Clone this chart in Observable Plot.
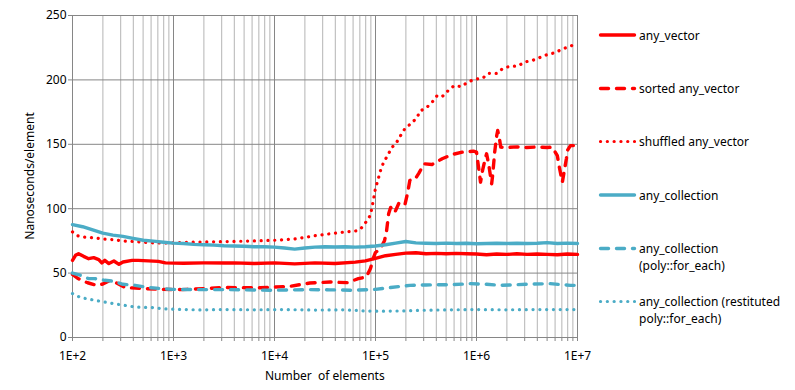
<!DOCTYPE html>
<html>
<head>
<meta charset="utf-8">
<script src="https://cdn.jsdelivr.net/npm/d3@7"></script>
<script src="https://cdn.jsdelivr.net/npm/@observablehq/plot@0.6"></script>
<style>
  html, body { margin: 0; padding: 0; background: #fff; }
  svg { display: block; }
</style>
</head>
<body>
<script>
// ---- Data (x given as log10 of the number of elements) ----
const seriesNames = [
  "any_vector",
  "sorted any_vector",
  "shuffled any_vector",
  "any_collection",
  "any_collection (poly::for_each)",
  "any_collection (restituted poly::for_each)"
];
const legendLines = [
  ["any_vector"],
  ["sorted any_vector"],
  ["shuffled any_vector"],
  ["any_collection"],
  ["any_collection", "(poly::for_each)"],
  ["any_collection (restituted", "poly::for_each)"]
];

const anyVectorLog = [2.0, 2.03, 2.06, 2.11, 2.16, 2.21, 2.26, 2.29, 2.32, 2.36, 2.41, 2.46, 2.5, 2.59, 2.65, 2.85, 2.92, 3.1, 3.3, 3.51, 3.6, 3.8, 4.0, 4.2, 4.4, 4.6, 4.8, 4.9, 5.0, 5.1, 5.2, 5.3, 5.4, 5.5, 5.6, 5.7, 5.8, 5.9, 6.0, 6.1, 6.2, 6.3, 6.4, 6.5, 6.6, 6.7, 6.8, 6.9, 7.0];
const anyVectorNs  = [59.9, 63.8, 65.1, 63, 61.2, 62, 60.5, 57.9, 59.9, 57.4, 59.4, 56.8, 58.6, 59.9, 59.9, 59.1, 57.9, 57.6, 57.9, 57.9, 57.9, 57.5, 57.9, 57.2, 57.9, 57.5, 58.5, 59.5, 61.5, 63.5, 64.5, 65.5, 65.8, 65, 65.3, 65, 65.3, 65, 64.8, 64.3, 64.8, 64.5, 65, 64.5, 64.8, 64.5, 64.3, 64.8, 64.5];

const sortedLog = [2.0, 2.05, 2.1, 2.15, 2.24, 2.3, 2.36, 2.42, 2.52, 2.72, 2.85, 3.08, 3.31, 3.51, 3.86, 4.16, 4.35, 4.55, 4.72, 4.83, 4.91, 4.95, 4.98, 5.0, 5.05, 5.09, 5.11, 5.13, 5.15, 5.19, 5.23, 5.29, 5.32, 5.34, 5.39, 5.43, 5.48, 5.56, 5.66, 5.76, 5.86, 5.97, 6.0, 6.02, 6.04, 6.06, 6.09, 6.1, 6.12, 6.15, 6.16, 6.18, 6.2, 6.21, 6.23, 6.24, 6.3, 6.4, 6.5, 6.6, 6.7, 6.75, 6.8, 6.82, 6.85, 6.87, 6.89, 6.9, 6.93, 7.0];
const sortedNs  = [49, 46, 44, 42.5, 40.5, 41.5, 43.9, 43, 38.8, 38, 37.4, 37.2, 38, 38.8, 38.6, 39.8, 42.3, 43.1, 42.6, 45.7, 47, 53.5, 62, 66, 69, 75.4, 83, 96, 101, 97, 104, 102.6, 113, 122, 122.7, 127.6, 134.9, 134.3, 138.8, 142.1, 143.9, 144.7, 144, 132.3, 120.6, 129.7, 140, 142.6, 134.9, 119.4, 126, 143.9, 156.8, 160.7, 153, 147.8, 147.5, 148, 147.5, 148, 147.5, 147.8, 141.3, 132.3, 120.6, 129.7, 138.8, 145.2, 149, 149];

const shuffledLog = [2.0, 2.05, 2.1, 2.2, 2.3, 2.4, 2.5, 2.6, 2.7, 2.8, 2.9, 3.0, 3.2, 3.4, 3.6, 3.8, 4.0, 4.2, 4.4, 4.6, 4.7, 4.8, 4.85, 4.9, 4.95, 4.98, 5.0, 5.02, 5.05, 5.08, 5.12, 5.16, 5.21, 5.25, 5.29, 5.35, 5.41, 5.44, 5.51, 5.56, 5.61, 5.66, 5.72, 5.78, 5.85, 5.91, 5.98, 6.06, 6.12, 6.2, 6.26, 6.33, 6.41, 6.48, 6.55, 6.63, 6.7, 6.78, 6.85, 6.92, 6.98, 7.0];
const shuffledNs  = [82, 79, 78, 77.5, 76.5, 76, 75, 74.5, 74, 73.5, 73.3, 73.5, 74, 74.3, 74.6, 75, 75.5, 76.5, 79, 81, 82, 82.6, 84, 89, 95, 107, 116, 121, 129.7, 136, 141.3, 147.3, 151.6, 157, 162, 166, 170.5, 175.7, 178.8, 182.6, 187.8, 187, 191.7, 195.6, 194.8, 198.1, 200.5, 201.3, 205.1, 205, 208.8, 210.6, 210.8, 214, 215, 217.5, 219.6, 221.2, 224, 225.8, 227.9, 228.5];

const collectionLog = [2.0, 2.1, 2.2, 2.3, 2.4, 2.5, 2.6, 2.7, 2.8, 2.9, 3.0, 3.1, 3.2, 3.3, 3.4, 3.5, 3.6, 3.7, 3.8, 3.9, 4.0, 4.1, 4.2, 4.3, 4.4, 4.5, 4.6, 4.7, 4.8, 4.9, 5.0, 5.1, 5.2, 5.3, 5.4, 5.5, 5.6, 5.7, 5.8, 5.9, 6.0, 6.1, 6.2, 6.3, 6.4, 6.5, 6.6, 6.7, 6.8, 6.9, 7.0];
const collectionNs  = [87.6, 86, 83.5, 81, 79.5, 78.5, 77, 75.5, 74.8, 74, 73.3, 73, 72.3, 72, 71.7, 71.2, 71, 70.8, 70.5, 70.5, 70.2, 69.5, 68.6, 69.5, 70.2, 70.5, 70.3, 70.5, 70.2, 70.5, 71, 72, 73.3, 74.5, 73.5, 73.2, 73, 73.3, 73, 73.2, 72.8, 73, 73.2, 73, 73.2, 73, 73.2, 73.7, 73, 73.3, 73];

const polyLog = [2.0, 2.08, 2.16, 2.22, 2.32, 2.41, 2.5, 2.62, 2.75, 2.98, 3.25, 3.5, 3.7, 3.96, 4.2, 4.35, 4.55, 4.78, 5.0, 5.15, 5.34, 5.5, 5.74, 5.94, 6.1, 6.23, 6.4, 6.55, 6.73, 6.93, 7.0];
const polyNs  = [50, 48.3, 45.7, 45.7, 44.4, 43.6, 41.3, 40.5, 38.8, 37.4, 37.2, 37.2, 37, 36.7, 37, 37.2, 37, 36.7, 37.4, 38.8, 40.5, 40.8, 41, 41.8, 41.3, 40.5, 41, 41.5, 41.8, 40.5, 40.5];

const restitutedLog = [2.0, 2.08, 2.22, 2.31, 2.46, 2.62, 2.77, 2.92, 3.25, 3.48, 3.8, 4.1, 4.4, 4.7, 4.9, 5.0, 5.25, 5.5, 5.94, 6.3, 6.6, 7.0];
const restitutedNs  = [34.1, 31, 28.9, 27.6, 25.6, 23.7, 23.3, 22.2, 21.4, 21.7, 21.5, 21.7, 21.3, 21.5, 20.6, 20.4, 20.6, 21.2, 21.7, 21.5, 21.7, 21.7];

const xTickLabels = ["1E+2", "1E+3", "1E+4", "1E+5", "1E+6", "1E+7"];
const xTickExp = [2, 3, 4, 5, 6, 7];
const yTicks = [0, 50, 100, 150, 200, 250];

// ---- Styles ----
const RED = "#FF0000", BLUE = "#4BACC6";
const styles = [
  {stroke: RED,  dash: null},
  {stroke: RED,  dash: "8 8"},
  {stroke: RED,  dash: "0.1 6.7"},
  {stroke: BLUE, dash: null},
  {stroke: BLUE, dash: "8 8"},
  {stroke: BLUE, dash: "0.1 6.7"}
];

const seriesData = [
  [anyVectorLog, anyVectorNs],
  [sortedLog, sortedNs],
  [shuffledLog, shuffledNs],
  [collectionLog, collectionNs],
  [polyLog, polyNs],
  [restitutedLog, restitutedNs]
].map(([xs, ys], i) => xs.map((e, j) => ({series: seriesNames[i], n: 10 ** e, v: ys[j]})));

const majorTicks = xTickExp.map(e => 10 ** e);
const minorTicks = [];
for (let e = 2; e < 7; e++) for (let k = 2; k <= 9; k++) minorTicks.push(k * 10 ** e);
const allTicks = majorTicks.concat(minorTicks);
const labelOf = new Map(majorTicks.map((t, i) => [t, xTickLabels[i]]));

const widthOf = s => (s.dash && s.dash.startsWith("0.1") ? 3.2 : 3.4);

const lineMarks = seriesData.map((rows, i) => Plot.line(rows, {
  x: "n", y: "v",
  stroke: styles[i].stroke,
  strokeWidth: widthOf(styles[i]),
  strokeDasharray: styles[i].dash || undefined,
  strokeLinecap: "round",
  strokeLinejoin: "round"
}));

const chart = Plot.plot({
  width: 795,
  height: 390,
  marginLeft: 72,
  marginRight: 218,
  marginTop: 15,
  marginBottom: 53,
  x: {type: "log", domain: [100, 1e7]},
  y: {domain: [0, 250]},
  style: {fontFamily: "'Noto Sans', sans-serif", fontSize: "12px", color: "#000", background: "#fff"},
  marks: [
    Plot.ruleX(minorTicks, {stroke: "#b4b4b4", strokeWidth: 1}),
    Plot.ruleX(majorTicks, {stroke: "#868686", strokeWidth: 1}),
    Plot.ruleY(yTicks, {stroke: "#868686", strokeWidth: 1}),
    Plot.axisY({ticks: yTicks, tickSize: 4, tickPadding: 2, label: null, stroke: "#868686", fill: "#000", fontSize: 12}),
    Plot.axisX({ticks: allTicks, tickSize: 4, tickPadding: 10, label: null, stroke: "#868686", fill: "#000", fontSize: 12,
      tickFormat: d => labelOf.get(d) || ""}),
    ...lineMarks
  ]
});

document.body.appendChild(chart);

// Axis titles and legend
const svg = d3.select(chart);
svg.append("text")
  .attr("x", 324.8).attr("y", 380)
  .attr("text-anchor", "middle")
  .attr("font-family", "'Noto Sans', sans-serif").attr("font-size", 12).attr("fill", "#000")
  .attr("xml:space", "preserve")
  .text("Number  of elements");
svg.append("text")
  .attr("transform", "translate(33.5,176) rotate(-90)")
  .attr("text-anchor", "middle")
  .attr("font-family", "'Noto Sans', sans-serif").attr("font-size", 12).attr("fill", "#000")
  .text("Nanoseconds/element");

const legendY = [35, 88.5, 141.5, 195, 248.5, 301.5];
const lg = svg.append("g").attr("text-anchor", "start");
legendLines.forEach((lines, i) => {
  const y = legendY[i];
  lg.append("line")
    .attr("x1", 600.5).attr("x2", 634.5).attr("y1", y).attr("y2", y)
    .attr("stroke", styles[i].stroke)
    .attr("stroke-width", widthOf(styles[i]))
    .attr("stroke-linecap", "round")
    .attr("stroke-dasharray", styles[i].dash);
  lines.forEach((t, k) => {
    lg.append("text")
      .attr("x", 639).attr("y", y + 4.5 + k * 16.5)
      .attr("text-anchor", "start")
      .attr("font-family", "'Noto Sans', sans-serif").attr("font-size", 12).attr("fill", "#000")
      .text(t);
  });
});
</script>
</body>
</html>
